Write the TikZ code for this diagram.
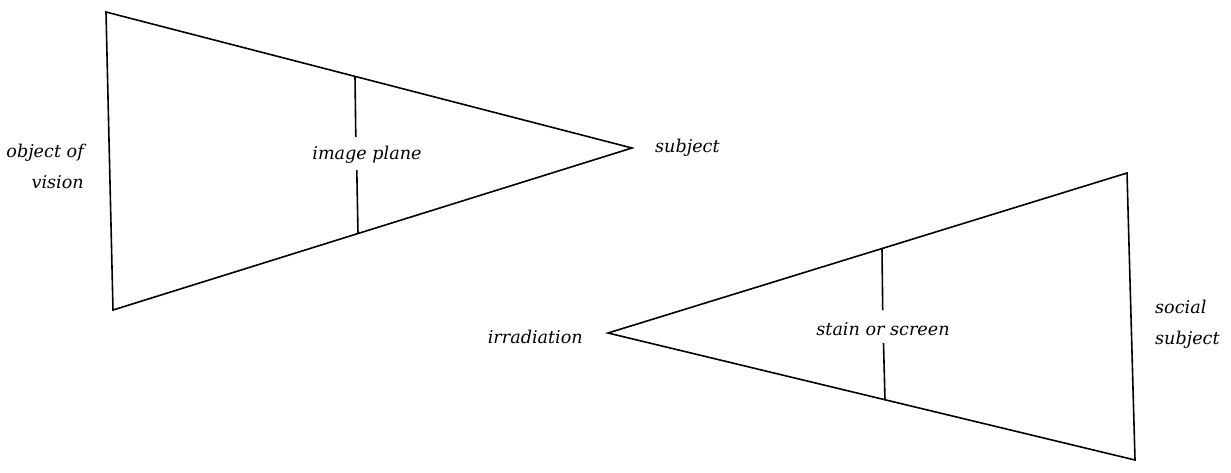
\documentclass[tikz,border=0pt]{standalone}
\usepackage{fontspec}
\setmainfont{DejaVu Serif}
\begin{document}
\begin{tikzpicture}[x=1pt,y=-1pt,
  edge/.style={line width=1.6pt, line join=miter},
  lbl/.style={font=\fontsize{17.6}{31}\selectfont\itshape, inner sep=0pt, align=center}]
\useasboundingbox (0,0) rectangle (1231,472);
% left triangle
\coordinate (L1) at (106,12);
\coordinate (L2) at (113,310);
\coordinate (L3) at (632,148);
\draw[edge] (L1) -- (L2) -- (L3) -- cycle;
\coordinate (LT) at (355,76.5);
\coordinate (LTg) at (355.8,137);
\coordinate (LBg) at (356.8,170);
\coordinate (LB) at (358,233.5);
\draw[edge] (LT) -- (LTg);
\draw[edge] (LBg) -- (LB);
\node[lbl] (ip) at (367,155) {image plane};
\node[lbl, anchor=east, align=right] (ov) at (84,166) {object of\\vision};
\node[lbl, anchor=west] (subj) at (655,148) {subject};
% right triangle
\coordinate (R1) at (1127,173);
\coordinate (R2) at (1135,460);
\coordinate (R3) at (608,333);
\draw[edge] (R1) -- (R2) -- (R3) -- cycle;
\coordinate (RT) at (882,248.5);
\coordinate (RTg) at (882.7,310);
\coordinate (RBg) at (883.5,343);
\coordinate (RB) at (885,400);
\draw[edge] (RT) -- (RTg);
\draw[edge] (RBg) -- (RB);
\node[lbl] (ss) at (883,329) {stain or screen};
\node[lbl, anchor=east] (irr) at (583,337) {irradiation};
\node[lbl, anchor=west, align=left] (soc) at (1155,324) {social\\subject};
\end{tikzpicture}
\end{document}
